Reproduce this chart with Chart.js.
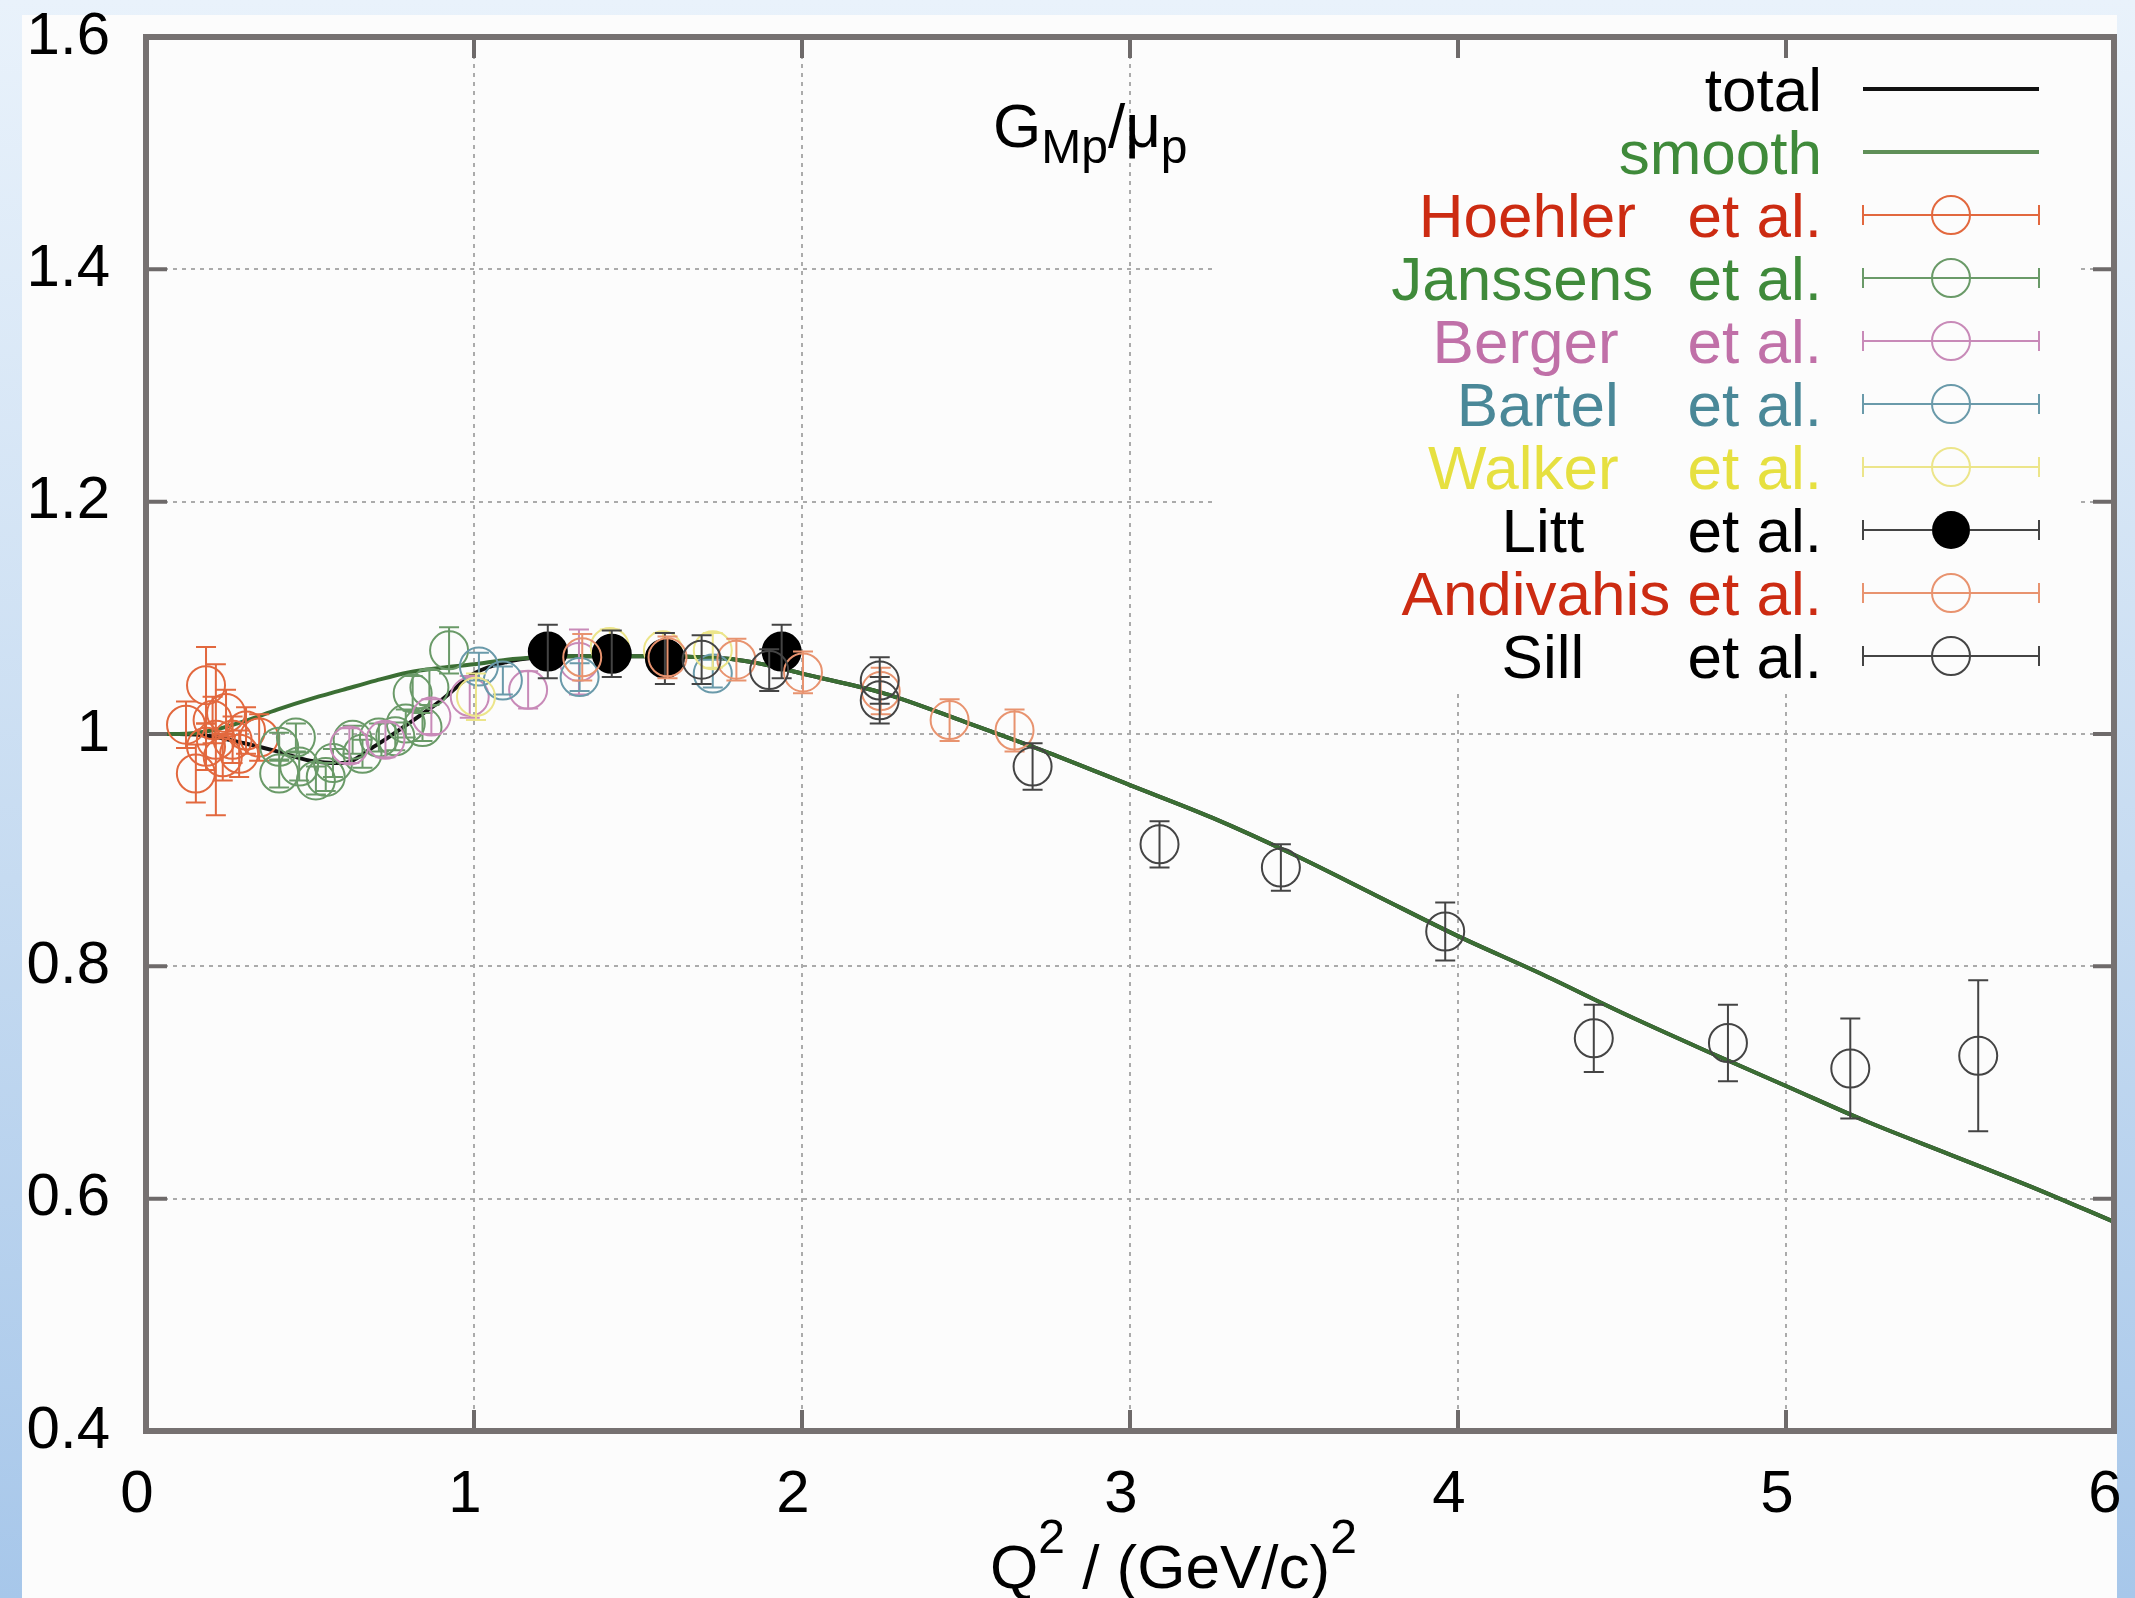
<!DOCTYPE html>
<html>
<head>
<meta charset="utf-8">
<title>GMp / mu_p</title>
<script src="https://cdn.jsdelivr.net/npm/chart.js@4.4.1/dist/chart.umd.min.js"></script>
<style>
  html, body { margin: 0; padding: 0; }
  body {
    width: 2135px; height: 1598px; overflow: hidden; position: relative;
    background: linear-gradient(to bottom, #e9f2fb 0%, #c6dbf1 55%, #a7c7ea 100%);
  }
  #paper { position: absolute; left: 22px; top: 15px; width: 2095px; height: 1583px; background: #fcfcfc; }
  #chart { position: absolute; left: 0; top: 0; }
</style>
</head>
<body>
<div id="paper"></div>
<canvas id="chart" width="2135" height="1598"></canvas>
<script>
// axis ticks
const xTicks = [0, 1, 2, 3, 4, 5, 6];
const yTicks = [0.4, 0.6, 0.8, 1, 1.2, 1.4, 1.6];

// fit curves
const curveQ2 = [0, 0.1, 0.2, 0.3, 0.4, 0.5, 0.6, 0.7, 0.8, 0.9, 1.0, 1.1, 1.2, 1.3, 1.4, 1.5, 1.6, 1.7, 1.8, 1.9, 2.0,
  2.25, 2.5, 2.75, 3.0, 3.25, 3.5, 3.75, 4.0, 4.25, 4.5, 4.75, 5.0, 5.25, 5.5, 5.75, 6.0];
const totalG = [1.000, 1.000, 0.998, 0.992, 0.985, 0.977, 0.975, 0.990, 1.009, 1.029, 1.052, 1.062, 1.066, 1.067, 1.067, 1.067, 1.067, 1.066, 1.064, 1.059, 1.052,
  1.035, 1.010, 0.984, 0.956, 0.928, 0.896, 0.861, 0.826, 0.794, 0.760, 0.728, 0.697, 0.666, 0.638, 0.610, 0.580];
const smoothG = [1.000, 1.000, 1.003, 1.011, 1.021, 1.030, 1.038, 1.046, 1.053, 1.057, 1.060, 1.064, 1.066, 1.067, 1.067, 1.067, 1.067, 1.066, 1.064, 1.059, 1.052,
  1.035, 1.010, 0.984, 0.956, 0.928, 0.896, 0.861, 0.826, 0.794, 0.760, 0.728, 0.697, 0.666, 0.638, 0.610, 0.580];

// data sets: [Q2, G, error]
const hoehler = [
  [0.122, 1.008, 0.020], [0.152, 0.966, 0.025], [0.183, 1.042, 0.033], [0.183, 0.989, 0.020],
  [0.203, 1.012, 0.020], [0.213, 0.995, 0.065], [0.234, 0.980, 0.020], [0.244, 1.018, 0.020],
  [0.264, 0.995, 0.020], [0.284, 0.983, 0.020], [0.305, 1.003, 0.020], [0.345, 0.997, 0.020]
];
const janssens = [
  [0.406, 0.989, 0.012], [0.406, 0.966, 0.012], [0.457, 0.997, 0.012], [0.467, 0.972, 0.012],
  [0.518, 0.960, 0.012], [0.548, 0.963, 0.012], [0.570, 0.975, 0.012], [0.630, 0.995, 0.012],
  [0.660, 0.983, 0.012], [0.710, 0.997, 0.012], [0.760, 0.998, 0.012], [0.792, 1.009, 0.012],
  [0.843, 1.006, 0.012], [0.813, 1.035, 0.015], [0.864, 1.040, 0.015], [0.924, 1.072, 0.020]
];
const berger = [
  [0.620, 0.990, 0.015], [0.730, 0.995, 0.015], [0.870, 1.015, 0.015],
  [0.987, 1.032, 0.018], [1.165, 1.038, 0.016], [1.320, 1.062, 0.028]
];
const bartel = [
  [1.015, 1.058, 0.012], [1.088, 1.046, 0.012], [1.322, 1.049, 0.012], [1.728, 1.052, 0.012]
];
const walker = [
  [1.006, 1.032, 0.020], [1.414, 1.075, 0.015], [1.576, 1.072, 0.015], [1.728, 1.072, 0.015]
];
const litt = [
  [1.225, 1.071, 0.023], [1.420, 1.069, 0.020], [1.582, 1.065, 0.022], [1.938, 1.071, 0.023]
];
const andivahis = [
  [1.330, 1.066, 0.020], [1.590, 1.066, 0.018], [1.800, 1.064, 0.018], [2.003, 1.053, 0.018],
  [2.240, 1.037, 0.020], [2.450, 1.012, 0.018], [2.648, 1.003, 0.018]
];
const sill = [
  [1.694, 1.064, 0.021], [1.900, 1.055, 0.018], [2.237, 1.046, 0.020], [2.237, 1.029, 0.020],
  [2.703, 0.972, 0.020], [3.090, 0.905, 0.020], [3.460, 0.885, 0.020], [3.961, 0.830, 0.025],
  [4.414, 0.738, 0.029], [4.823, 0.734, 0.033], [5.196, 0.712, 0.043], [5.586, 0.723, 0.065]
];

// legend
const legendNames = ['total', 'smooth', 'Hoehler', 'Janssens', 'Berger', 'Bartel', 'Walker', 'Litt', 'Andivahis', 'Sill'];
const legendText = ['#000000', '#3f8a3a', '#cc2b12', '#3f8a3a', '#c070a8', '#4a8898', '#e6e040', '#000000', '#cc2b12', '#000000'];
const markColor = ['#111111', '#5f8f58', '#e2683e', '#6a9a68', '#c88ab8', '#6a9aaa', '#ece58a', '#444444', '#e8936f', '#444444'];

// title pieces: 0 normal, 1 subscript, 2 superscript
const titleParts = [['G', 0], ['Mp', 1], ['/', 0], ['\u03bc', 0], ['p', 1]];
const xTitleParts = [['Q', 0], ['2', 2], [' / (GeV/c)', 0], ['2', 2]];

const FONT = '"Liberation Sans", Arial, sans-serif';

function series(rows, idx, order, fill) {
  return {
    label: legendNames[idx],
    data: rows.map(r => ({ x: r[0], y: r[1] })),
    err: rows.map(r => r[2]),
    barColor: markColor[idx],
    borderColor: markColor[idx],
    backgroundColor: fill || 'rgba(0,0,0,0)',
    pointBorderColor: fill || markColor[idx],
    pointBackgroundColor: fill || 'rgba(0,0,0,0)',
    pointRadius: 19,
    pointHoverRadius: 19,
    borderWidth: 2,
    pointBorderWidth: 2,
    order: order
  };
}

function curve(ys, color, order) {
  return {
    label: '',
    data: curveQ2.map((q, i) => ({ x: q, y: ys[i] })),
    showLine: true,
    borderColor: color,
    borderWidth: 4,
    pointRadius: 0,
    pointHoverRadius: 0,
    cubicInterpolationMode: 'monotone',
    fill: false,
    order: order
  };
}

// error bars, drawn with each data set
const errorBars = {
  id: 'errorBars',
  afterDatasetDraw(chart, args) {
    const ds = chart.data.datasets[args.index];
    if (!ds.err) return;
    const c = chart.ctx, xs = chart.scales.x, ys = chart.scales.y, a = chart.chartArea;
    c.save();
    c.beginPath();
    c.rect(a.left, a.top, a.right - a.left, a.bottom - a.top);
    c.clip();
    c.strokeStyle = ds.barColor;
    c.lineWidth = 2;
    ds.data.forEach((p, i) => {
      const px = xs.getPixelForValue(p.x);
      const y1 = ys.getPixelForValue(p.y + ds.err[i]);
      const y2 = ys.getPixelForValue(p.y - ds.err[i]);
      c.beginPath();
      c.moveTo(px, y1); c.lineTo(px, y2);
      c.moveTo(px - 10, y1); c.lineTo(px + 10, y1);
      c.moveTo(px - 10, y2); c.lineTo(px + 10, y2);
      c.stroke();
    });
    c.restore();
  }
};

// key box hides the grid behind it
const keyBox = {
  id: 'keyBox',
  beforeDatasetsDraw(chart) {
    const c = chart.ctx;
    c.save();
    c.fillStyle = '#fcfcfc';
    c.fillRect(1212, 44, 2077 - 1212, 692 - 44);
    c.restore();
  }
};

function drawParts(c, parts, x, base, big, small, shift) {
  parts.forEach(p => {
    const size = p[1] === 0 ? big : small;
    c.font = size + 'px ' + FONT;
    const y = p[1] === 1 ? base + shift : (p[1] === 2 ? base - shift : base);
    c.fillText(p[0], x, y);
    x += c.measureText(p[0]).width;
  });
}

const frame = {
  id: 'frame',
  afterDraw(chart) {
    const c = chart.ctx, a = chart.chartArea, xs = chart.scales.x, ys = chart.scales.y;
    c.save();
    // tick marks, inward on all sides
    c.strokeStyle = '#6e6a6a';
    c.lineWidth = 4;
    c.beginPath();
    xTicks.forEach(v => {
      const px = xs.getPixelForValue(v);
      c.moveTo(px, a.bottom); c.lineTo(px, a.bottom - 21);
      c.moveTo(px, a.top); c.lineTo(px, a.top + 21);
    });
    yTicks.forEach(v => {
      const py = ys.getPixelForValue(v);
      c.moveTo(a.left, py); c.lineTo(a.left + 21, py);
      c.moveTo(a.right, py); c.lineTo(a.right - 21, py);
    });
    c.stroke();
    // border
    c.strokeStyle = '#767171';
    c.lineWidth = 6;
    c.strokeRect(a.left, a.top, a.right - a.left, a.bottom - a.top);

    // key
    const right = 1822, lx1 = 1863, lx2 = 2039, cx = 1951;
    c.textAlign = 'right';
    c.textBaseline = 'alphabetic';
    c.font = '62px ' + FONT;
    legendNames.forEach((name, i) => {
      const base = 111 + i * 63;
      const mid = base - 22;
      const txt = i < 2 ? name : name.padEnd(10, '\u00a0') + 'et al.';
      c.fillStyle = legendText[i];
      c.fillText(txt, right, base);
      c.strokeStyle = markColor[i];
      if (i < 2) {
        c.lineWidth = 4;
        c.beginPath(); c.moveTo(lx1, mid); c.lineTo(lx2, mid); c.stroke();
      } else {
        c.lineWidth = 2;
        c.beginPath();
        c.moveTo(lx1, mid); c.lineTo(cx - 19, mid);
        c.moveTo(cx + 19, mid); c.lineTo(lx2, mid);
        c.moveTo(lx1, mid - 10); c.lineTo(lx1, mid + 10);
        c.moveTo(lx2, mid - 10); c.lineTo(lx2, mid + 10);
        c.stroke();
        c.beginPath();
        c.arc(cx, mid, 19, 0, Math.PI * 2);
        if (name === 'Litt') {
          c.fillStyle = '#000'; c.fill();
        } else {
          c.stroke();
          c.beginPath(); c.moveTo(cx - 19, mid); c.lineTo(cx + 19, mid); c.stroke();
        }
      }
    });

    // plot label and axis title
    c.textAlign = 'left';
    c.fillStyle = '#000';
    drawParts(c, titleParts, 993, 147, 62, 48, 16);
    drawParts(c, xTitleParts, 990, 1588, 62, 48, 35);
    c.restore();
  }
};

const ctx = document.getElementById('chart').getContext('2d');
const gmChart = new Chart(ctx, {
  type: 'scatter',
  data: {
    datasets: [
      curve(totalG, '#111111', 20),
      curve(smoothG, '#3b6e34', 19),
      series(hoehler, 2, 18),
      series(janssens, 3, 17),
      series(berger, 4, 16),
      series(bartel, 5, 15),
      series(walker, 6, 14),
      series(litt, 7, 13, '#000000'),
      series(andivahis, 8, 12),
      series(sill, 9, 11)
    ]
  },
  options: {
    responsive: false,
    animation: false,
    devicePixelRatio: 1,
    layout: { padding: { top: 37, right: 20, left: 0, bottom: 0 } },
    plugins: { legend: { display: false }, tooltip: { enabled: false } },
    scales: {
      x: {
        type: 'linear', min: 0, max: 6,
        afterBuildTicks: s => { s.ticks = xTicks.map(v => ({ value: v })); },
        afterFit: s => { s.height = 167; s.paddingLeft = 0; s.paddingRight = 0; },
        ticks: { font: { family: FONT, size: 60 }, color: '#000', padding: 28, maxRotation: 0, autoSkip: false,
                 labelOffset: -9, callback: v => String(v) },
        grid: { drawTicks: false, lineWidth: 2,
                color: g => (g.tick && (g.tick.value === 0 || g.tick.value === 6)) ? 'rgba(0,0,0,0)' : '#ababab' },
        border: { display: false, dash: [4, 5] }
      },
      y: {
        type: 'linear', min: 0.4, max: 1.6,
        afterBuildTicks: s => { s.ticks = yTicks.map(v => ({ value: v })); },
        afterFit: s => { s.width = 146; s.paddingTop = 0; s.paddingBottom = 0; },
        ticks: { font: { family: FONT, size: 60 }, color: '#000', padding: 36, autoSkip: false,
                 callback: v => String(v) },
        grid: { drawTicks: false, lineWidth: 2,
                color: g => (g.tick && (g.tick.value === 0.4 || g.tick.value === 1.6)) ? 'rgba(0,0,0,0)' : '#ababab' },
        border: { display: false, dash: [4, 5] }
      }
    }
  },
  plugins: [errorBars, keyBox, frame]
});
</script>
</body>
</html>
